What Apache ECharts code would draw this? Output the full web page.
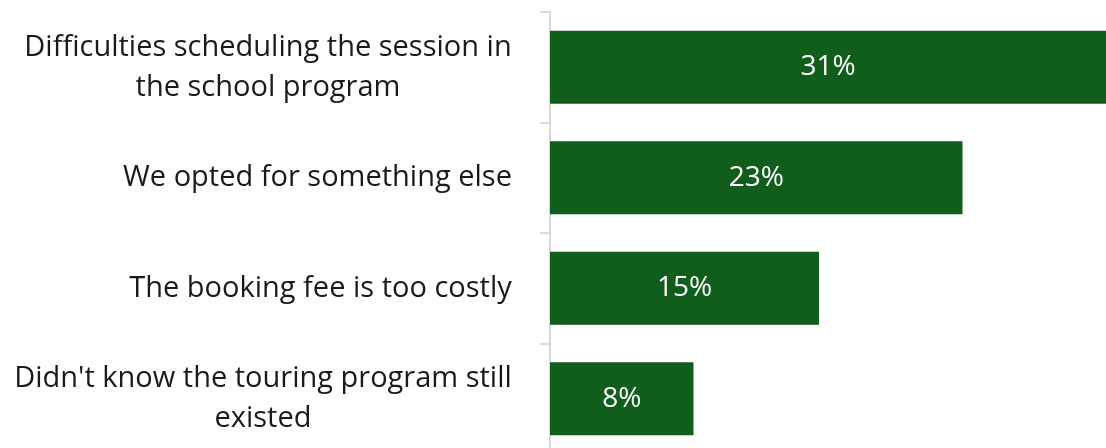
<!DOCTYPE html>
<html>
<head>
<meta charset="utf-8">
<script src="https://cdn.jsdelivr.net/npm/echarts@6/dist/echarts.min.js"></script>
<style>
  html, body { margin: 0; padding: 0; background: #ffffff; }
  #chart { width: 1106px; height: 448px; }
</style>
</head>
<body>
<div id="chart"></div>
<script>
// Reasons for not booking the touring program (share of respondents, %)
const categories = [
  "Difficulties scheduling the session in\nthe school program",
  "We opted for something else",
  "The booking fee is too costly",
  "Didn't know the touring program still\nexisted"
];
const shares = [31, 23, 15, 8];

const LABEL_SIZE = 29;
const BAR_COLOR = '#115e1c';

// Measure each label's widest line so multi-line labels can be centred within their own block
const ctx = document.createElement('canvas').getContext('2d');
ctx.font = LABEL_SIZE + 'px "Open Sans"';
const rich = {};
categories.forEach(function (c, i) {
  const w = Math.max.apply(null, c.split('\n').map(function (l) { return ctx.measureText(l).width; }));
  rich['c' + i] = {
    width: Math.ceil(w),
    align: 'center',
    fontFamily: 'Open Sans',
    fontSize: LABEL_SIZE,
    lineHeight: 40,
    color: '#1a1a1a'
  };
});

const chart = echarts.init(document.getElementById('chart'), null, { renderer: 'canvas' });
chart.setOption({
  animation: false,
  grid: { left: 550, right: 0, top: 12, bottom: -6, outerBoundsMode: 'none', containLabel: false },
  xAxis: {
    type: 'value',
    min: 0,
    max: 31,
    show: false
  },
  yAxis: {
    type: 'category',
    inverse: true,
    data: categories,
    axisLine: { show: true, lineStyle: { color: '#d9d9d9', width: 2 } },
    axisTick: { show: true, length: 10, lineStyle: { color: '#d9d9d9', width: 2 } },
    axisLabel: {
      margin: 38,
      align: 'right',
      formatter: function (value, idx) {
        return value.split('\n').map(function (l) { return '{c' + idx + '|' + l + '}'; }).join('\n');
      },
      rich: rich
    }
  },
  series: [{
    type: 'bar',
    data: shares,
    barCategoryGap: '34%',
    itemStyle: { color: BAR_COLOR },
    label: {
      show: true,
      position: 'inside',
      formatter: '{c}%',
      color: '#ffffff',
      fontFamily: 'Open Sans',
      fontSize: 28
    }
  }]
});
</script>
</body>
</html>
